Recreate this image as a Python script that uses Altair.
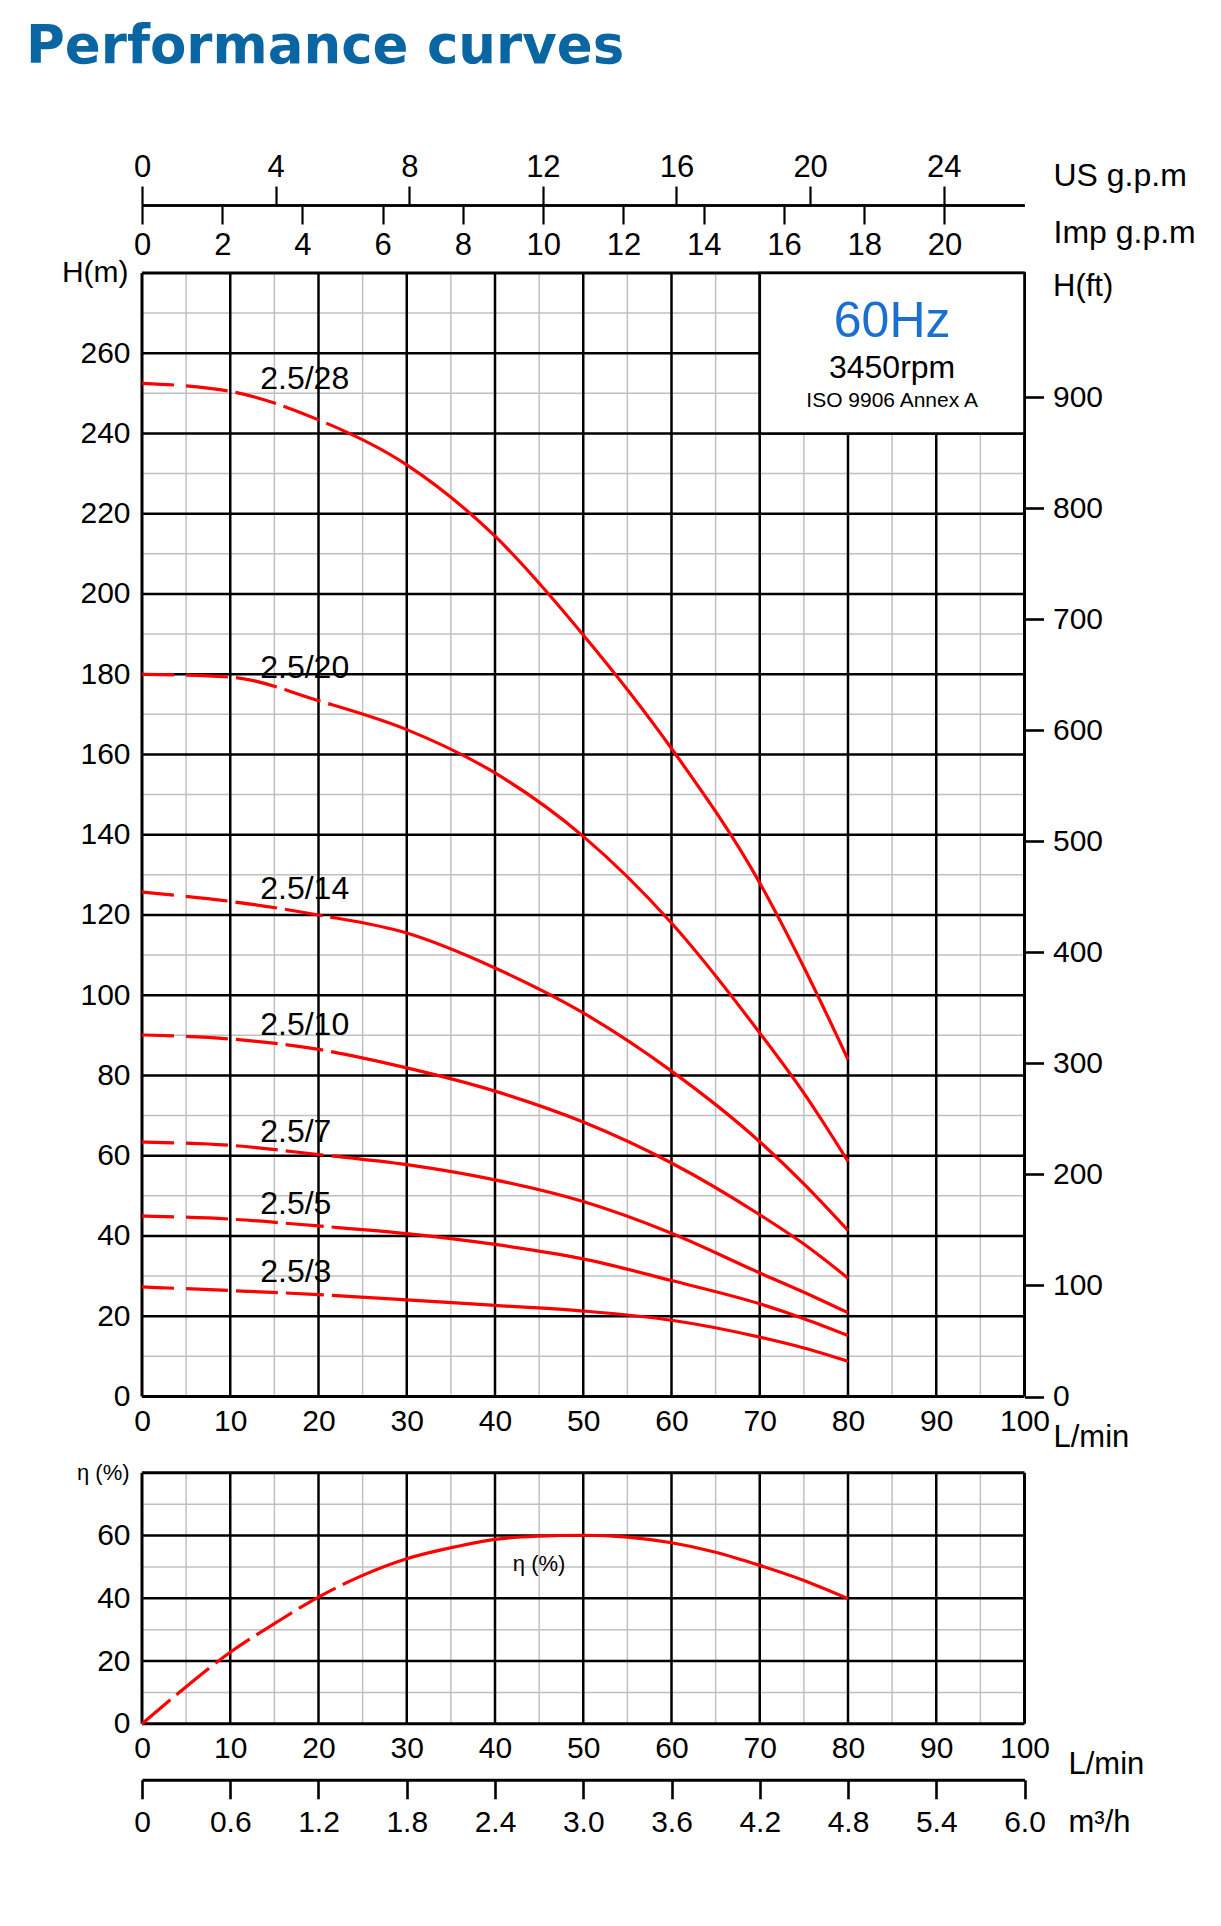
import altair as alt
import pandas as pd

# ---------------- data ----------------
flow = [0, 10, 20, 30, 40, 50, 60, 70, 75, 80]            # L/min
head_28 = [252.5, 250.5, 243.4, 232.2, 214.4, 189.8, 161.5, 128.0, 107.0, 84.0]
head_20 = [180.0, 179.3, 173.4, 166.2, 155.4, 139.6, 118.0, 90.6, 75.6, 58.6]
head_14 = [125.7, 123.4, 120.0, 115.5, 106.8, 95.6, 81.1, 63.5, 53.0, 41.4]
head_10 = [90.1, 89.1, 86.5, 81.9, 76.1, 68.4, 58.2, 45.3, 38.0, 29.5]
head_7 = [63.4, 62.6, 60.3, 57.8, 54.0, 48.6, 40.7, 30.8, 26.0, 20.9]
head_5 = [45.0, 44.2, 42.5, 40.6, 37.9, 34.3, 28.9, 23.1, 19.4, 15.2]
head_3 = [27.3, 26.4, 25.4, 24.1, 22.7, 21.3, 19.0, 14.8, 12.1, 8.8]
models = ["2.5/28", "2.5/20", "2.5/14", "2.5/10", "2.5/7", "2.5/5", "2.5/3"]
heads = [head_28, head_20, head_14, head_10, head_7, head_5, head_3]

label_q = [13.4, 13.4, 13.4, 13.4, 13.4, 13.4, 13.4]
label_h = [251.1, 179.1, 123.9, 90.0, 63.4, 45.6, 28.5]

eff_flow = [0, 5, 10, 15, 20, 25, 30, 35, 40, 45, 50, 55, 60, 65, 70, 75, 80]
eff_val = [0, 11.8, 22.8, 31.9, 40.4, 47.3, 52.6, 56.1, 58.8, 59.8, 60.1, 59.5,
           57.7, 54.7, 50.5, 45.7, 39.9]

lmin_ticks = [0, 10, 20, 30, 40, 50, 60, 70, 80, 90, 100]
head_ticks = [0, 20, 40, 60, 80, 100, 120, 140, 160, 180, 200, 220, 240, 260]
ft_ticks = [0, 100, 200, 300, 400, 500, 600, 700, 800, 900]
usgpm_ticks = [0, 4, 8, 12, 16, 20, 24]
impgpm_ticks = [0, 2, 4, 6, 8, 10, 12, 14, 16, 18, 20]
m3h_ticks = [0, 0.6, 1.2, 1.8, 2.4, 3.0, 3.6, 4.2, 4.8, 5.4, 6.0]
eff_ticks = [0, 20, 40, 60]

box_lines = ["60Hz", "3450rpm", "ISO 9906 Annex A"]
box_line_h = [264.0, 253.9, 246.5]

# ---------------- layout / style ----------------
W = 882.5
H_MAIN = 1123.5
H_EFF = 251
H_TOT = 1450.8          # from top of head plot to bottom of efficiency plot
EFF_TOP = H_TOT - H_EFF
RED = "#ff0000"
GRAY = "#c0c0c0"
FONT = "Liberation Sans"
TOP_OFF = 68
NW = "normal"


def xs():
    return alt.Scale(domain=[0, 100], range=[0, W], nice=False, zero=False)


def ys():
    return alt.Scale(domain=[0, 280], range=[H_MAIN, 0], nice=False, zero=False)


def es():
    return alt.Scale(domain=[0, 80], range=[H_TOT, EFF_TOP], nice=False, zero=False)


X_MAIN = alt.Axis(orient="bottom", offset=-(H_TOT - H_MAIN), values=lmin_ticks, ticks=False,
                  tickSize=0, domain=False, labelFontSize=30, labelPadding=10,
                  labelFlush=False, labelOverlap=False, labelColor="black",
                  title="L/min", titleX=911, titleY=50, titleAlign="left",
                  titleBaseline="alphabetic", titleAngle=0, titleFontSize=31,
                  titleFontWeight=NW, titleColor="black")
Y_MAIN = alt.Axis(orient="left", values=head_ticks, ticks=False, tickSize=0, domain=False,
                  labelFontSize=30, labelPadding=12, minExtent=134, labelColor="black",
                  title="H(m)", titleX=-14, titleY=0, titleAlign="right",
                  titleBaseline="middle", titleAngle=0, titleFontSize=30,
                  titleFontWeight=NW, titleColor="black")
X_EFF = alt.Axis(orient="bottom", values=lmin_ticks, ticks=False, tickSize=0, domain=False,
                 labelFontSize=30, labelPadding=10, labelFlush=False, labelOverlap=False,
                 labelColor="black",
                 title="L/min", titleX=926, titleY=49.4, titleAlign="left",
                 titleBaseline="alphabetic", titleAngle=0, titleFontSize=31,
                 titleFontWeight=NW, titleColor="black")
Y_EFF = alt.Axis(orient="left", values=eff_ticks, ticks=False, tickSize=0, domain=False,
                 labelFontSize=30, labelPadding=12, minExtent=134, labelColor="black",
                 title="η (%)", titleX=-13, titleY=EFF_TOP, titleAlign="right",
                 titleBaseline="middle", titleAngle=0, titleFontSize=22,
                 titleFontWeight=NW, titleColor="black")


def vrules(vals, color, width, yscale, y0, y1, axis=None):
    df = pd.DataFrame({"Q": vals, "ya": [y0] * len(vals), "yb": [y1] * len(vals)})
    return alt.Chart(df).mark_rule(color=color, strokeWidth=width).encode(
        x=alt.X("Q:Q", scale=xs(), axis=axis),
        y=alt.Y("ya:Q", scale=yscale, axis=None), y2="yb")


def hrules(vals, color, width, yscale, axis=None):
    return alt.Chart(pd.DataFrame({"H": vals})).mark_rule(color=color, strokeWidth=width).encode(
        y=alt.Y("H:Q", scale=yscale, axis=axis))


# ---------------- head chart ----------------
minor_q = [5, 15, 25, 35, 45, 55, 65, 75, 85, 95]
major_q = [10, 20, 30, 40, 50, 60, 70, 80, 90]
minor_h = [10, 30, 50, 70, 90, 110, 130, 150, 170, 190, 210, 230, 250, 270]
major_h = [20, 40, 60, 80, 100, 120, 140, 160, 180, 200, 220, 240, 260]

curves = pd.DataFrame(
    [{"Q": q, "H": h, "model": m} for m, hs in zip(models, heads) for q, h in zip(flow, hs)])
labels = pd.DataFrame({"Q": label_q, "H": label_h, "model": models})
box = pd.DataFrame({"Q": [70], "Q2": [100], "H": [240], "H2": [280]})

DASH = [32, 12, 42, 8, 42, 8, 38, 8, 4000, 1]

layers = [
    vrules(minor_q, GRAY, 1.5, ys(), 0, 280, X_MAIN),
    hrules(minor_h, GRAY, 1.5, ys(), Y_MAIN),
    vrules(major_q, "black", 2.5, ys(), 0, 280),
    hrules(major_h, "black", 2.5, ys()),
    vrules([0, 100], "black", 3, ys(), 0, 280),
    hrules([0, 280], "black", 3, ys()),
    alt.Chart(box).mark_rect(fill="white", stroke="black", strokeWidth=2.6).encode(
        x=alt.X("Q:Q", scale=xs(), axis=None), x2="Q2",
        y=alt.Y("H:Q", scale=ys(), axis=None), y2="H2"),
]
for t, size, col, h in zip(box_lines, [50, 32, 21], ["#1a6fd0", "black", "black"], box_line_h):
    layers.append(
        alt.Chart(pd.DataFrame({"Q": [85], "H": [h], "t": [t]})).mark_text(
            fontSize=size, color=col, align="center", baseline="alphabetic", font=FONT).encode(
            x=alt.X("Q:Q", scale=xs(), axis=None), y=alt.Y("H:Q", scale=ys(), axis=None),
            text="t:N"))

layers += [
    alt.Chart(curves).mark_line(color=RED, strokeWidth=3.2, interpolate="monotone",
                                strokeDash=DASH).encode(
        x=alt.X("Q:Q", scale=xs(), axis=None), y=alt.Y("H:Q", scale=ys(), axis=None),
        detail="model:N"),
    alt.Chart(labels).mark_text(fontSize=32, align="left", baseline="alphabetic",
                                color="black", font=FONT).encode(
        x=alt.X("Q:Q", scale=xs(), axis=None), y=alt.Y("H:Q", scale=ys(), axis=None),
        text="model:N"),
]

one = pd.DataFrame({"v": [0]})
layers += [
    alt.Chart(one).mark_rule(strokeOpacity=0).encode(
        y=alt.Y("v:Q", scale=alt.Scale(domain=[0, 1012], range=[H_MAIN, 0], nice=False,
                                       zero=False),
                axis=alt.Axis(orient="right", values=ft_ticks, tickSize=19, tickWidth=2.6,
                              tickColor="black", domain=False, labelFontSize=30,
                              labelPadding=9, labelColor="black",
                              title="H(ft)", titleX=28, titleY=22.5, titleAlign="left",
                              titleBaseline="alphabetic", titleAngle=0, titleFontSize=31,
                              titleFontWeight=NW, titleColor="black"))),
    alt.Chart(one).mark_rule(strokeOpacity=0).encode(
        x=alt.X("v:Q", scale=alt.Scale(domain=[0, 100 / 3.78541], range=[0, W], nice=False,
                                       zero=False),
                axis=alt.Axis(orient="top", offset=TOP_OFF, values=usgpm_ticks, tickSize=19,
                              tickWidth=2.2, tickColor="black", domainWidth=2.6,
                              domainColor="black", labelFontSize=31, labelPadding=2,
                              labelFlush=False, labelOverlap=False, labelColor="black",
                              title="US g.p.m", titleX=911, titleY=-19.3, titleAlign="left",
                              titleBaseline="alphabetic", titleAngle=0, titleFontSize=32,
                              titleFontWeight=NW, titleColor="black"))),
    alt.Chart(one).mark_rule(strokeOpacity=0).encode(
        x=alt.X("v:Q", scale=alt.Scale(domain=[0, 100 / 4.54609], range=[0, W], nice=False,
                                       zero=False),
                axis=alt.Axis(orient="bottom", offset=-(H_TOT + TOP_OFF), values=impgpm_ticks,
                              tickSize=19, tickWidth=2.2, tickColor="black", domainWidth=2.6,
                              domainColor="black", labelFontSize=31, labelPadding=7,
                              labelFlush=False, labelOverlap=False, labelColor="black",
                              title="Imp g.p.m", titleX=911, titleY=37.4, titleAlign="left",
                              titleBaseline="alphabetic", titleAngle=0, titleFontSize=32,
                              titleFontWeight=NW, titleColor="black"))),
]

# ---------------- efficiency chart ----------------
eff = pd.DataFrame({"Q": eff_flow, "H": eff_val})
layers += [
    vrules(minor_q, GRAY, 1.5, es(), 0, 80, X_EFF),
    hrules([10, 30, 50, 70], GRAY, 1.5, es(), Y_EFF),
    vrules(major_q, "black", 2.5, es(), 0, 80),
    hrules([20, 40, 60], "black", 2.5, es()),
    vrules([0, 100], "black", 3, es(), 0, 80),
    hrules([0, 80], "black", 3, es()),
    alt.Chart(eff).mark_line(color=RED, strokeWidth=3.2, interpolate="monotone",
                             strokeDash=[37, 8, 42, 8, 42, 8, 42, 8, 42, 8, 5000, 1]).encode(
        x=alt.X("Q:Q", scale=xs(), axis=None), y=alt.Y("H:Q", scale=es(), axis=None)),
    alt.Chart(pd.DataFrame({"Q": [45], "H": [50.8], "t": ["η (%)"]})).mark_text(
        fontSize=22, align="center", baseline="middle", color="black", font=FONT).encode(
        x=alt.X("Q:Q", scale=xs(), axis=None), y=alt.Y("H:Q", scale=es(), axis=None),
        text="t:N"),
    alt.Chart(one).mark_rule(strokeOpacity=0).encode(
        x=alt.X("v:Q", scale=alt.Scale(domain=[0, 6], range=[0, W], nice=False, zero=False),
                axis=alt.Axis(orient="bottom", offset=56, values=m3h_ticks, tickSize=19,
                              tickWidth=2.6, tickColor="black", domainWidth=3,
                              domainColor="black", labelFontSize=30, labelPadding=9,
                              labelFlush=False, labelOverlap=False, labelColor="black",
                              labelExpr="datum.value == 0 ? '0' : format(datum.value, '.1f')",
                              title="m³/h", titleX=926, titleY=51.4, titleAlign="left",
                              titleBaseline="alphabetic", titleAngle=0, titleFontSize=31,
                              titleFontWeight=NW, titleColor="black"))),
]

chart = alt.layer(*layers).resolve_scale(x="independent", y="independent").properties(
    width=W, height=H_TOT,
    title=alt.TitleParams("Performance curves", anchor="start", fontSize=53, fontWeight="bold",
                          color="#0a66a3", font="DejaVu Sans", dx=18, offset=78),
    padding={"left": 0, "top": 13, "right": 5, "bottom": 5},
).configure(font=FONT).configure_axis(
    grid=False, labelFont=FONT, titleFont=FONT, labelColor="black", titleColor="black",
    titleFontWeight="normal", domainColor="black", tickColor="black",
).configure_view(stroke=None)

chart.save("out.html", embed_options={"renderer": "svg", "actions": False})
